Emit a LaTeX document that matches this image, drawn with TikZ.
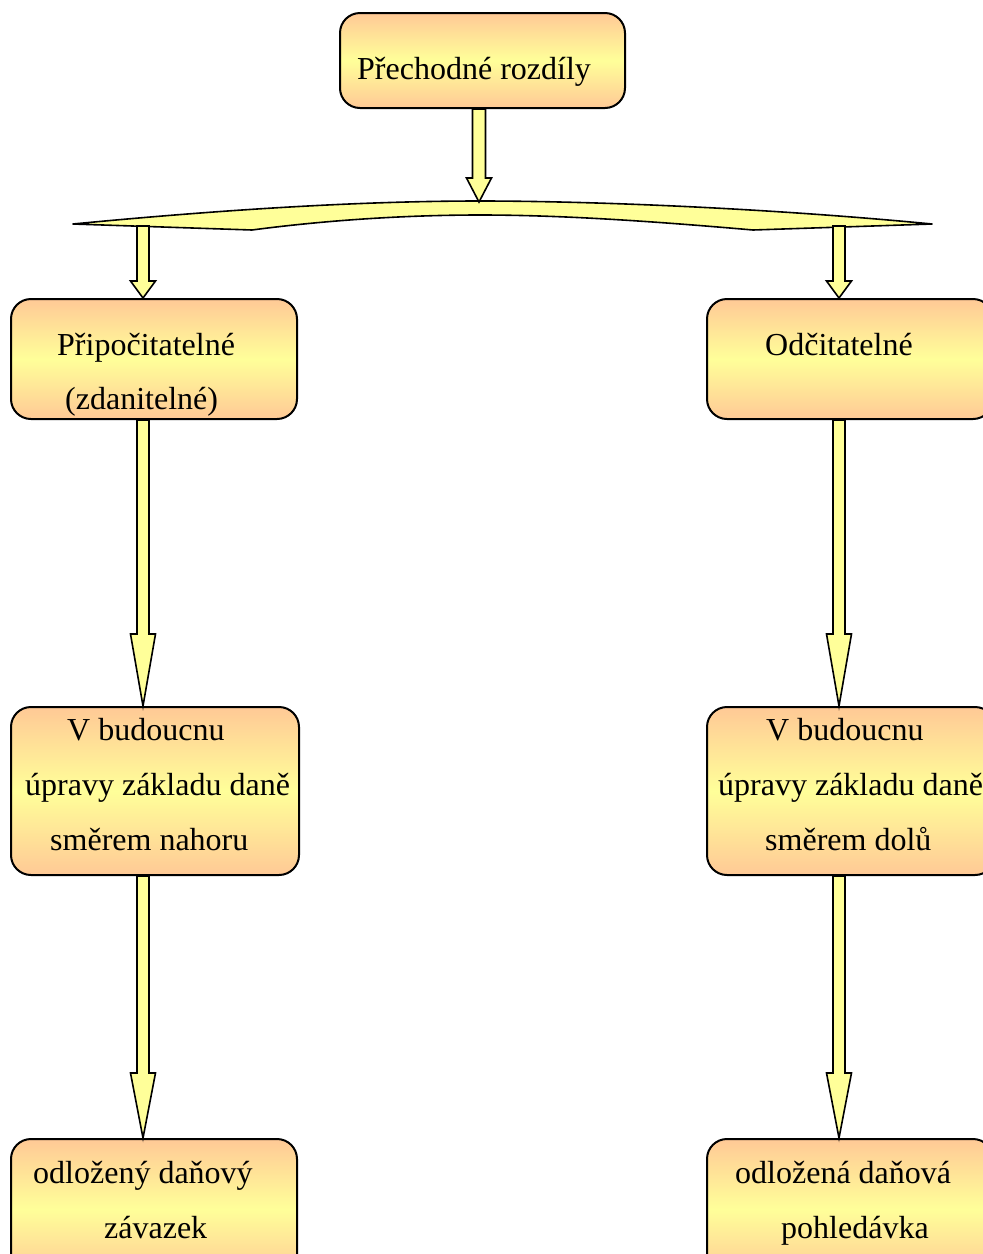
\documentclass[tikz,border=0pt]{standalone}
\usepackage{fontspec}
\setmainfont{Liberation Serif}
\usetikzlibrary{calc}
\definecolor{boxorange}{HTML}{FFC996}
\definecolor{boxyellow}{HTML}{FFFF99}
\definecolor{arrowyellow}{HTML}{FFFF99}
\tikzset{
  box/.style={draw=black, line width=2pt, rounded corners=20pt,
    top color=boxorange, bottom color=boxorange, middle color=boxyellow,
    anchor=north west, inner sep=0pt},
  txt/.style={anchor=base west, inner sep=0pt, font=\fontsize{32}{38}\selectfont},
  barrow/.style={fill=arrowyellow, draw=black, line width=1.6pt, line join=miter},
}
% #1 start (y taken), #2 tip coordinate, #3 shaft half width, #4 head length
\newcommand\blockarrow[4]{%
  \draw[barrow] let \p1=(#1), \p2=(#2) in
    (\x2-#3pt,\y1) -- (\x2+#3pt,\y1) -- (\x2+#3pt,\y2+#4pt) -- (\x2+12.5pt,\y2+#4pt)
    -- (\x2,\y2) -- (\x2-12.5pt,\y2+#4pt) -- (\x2-#3pt,\y2+#4pt) -- cycle;}
\begin{document}
\begin{tikzpicture}[x=1pt,y=-1pt]
\clip (0,0) rectangle (983,1254);
\fill[white] (0,0) rectangle (983,1254);

% boxes
\node[box, minimum width=285pt, minimum height=95pt] (top) at (339,12) {};
\node[box, minimum width=286pt, minimum height=120pt] (l1) at (10,298) {};
\node[box, minimum width=286pt, minimum height=120pt] (r1) at (706,298) {};
\node[box, minimum width=288pt, minimum height=168pt] (l2) at (10,706) {};
\node[box, minimum width=288pt, minimum height=168pt] (r2) at (706,706) {};
\node[box, minimum width=286pt, minimum height=140pt] (l3) at (10,1138) {};
\node[box, minimum width=286pt, minimum height=140pt] (r3) at (706,1138) {};

% brace
\draw[barrow, line join=round] (73,224) .. controls (250,207) and (380,201) .. (480,201)
  .. controls (580,201) and (755,207) .. (932,224) -- (753,230)
  .. controls (650,221) and (560,215) .. (480,215)
  .. controls (400,215) and (320,221) .. (252,230) -- cycle;
\coordinate (braceL) at (143,226);
\coordinate (braceR) at (839,226);
\coordinate (braceTop) at (479,202);

% tips
\coordinate (tipL1) at (143,298);
\coordinate (tipR1) at (839,298);
\coordinate (tipL2) at (143,706);
\coordinate (tipR2) at (839,706);
\coordinate (tipL3) at (143,1138);
\coordinate (tipR3) at (839,1138);

% arrows
\blockarrow{top.south}{braceTop}{6.5}{24}
\blockarrow{braceL}{tipL1}{6}{17}
\blockarrow{braceR}{tipR1}{6}{17}
\blockarrow{l1.south}{tipL2}{6}{72}
\blockarrow{r1.south}{tipR2}{6}{72}
\blockarrow{l2.south}{tipL3}{6}{65}
\blockarrow{r2.south}{tipR3}{6}{65}

% texts
\node[txt] (t0) at (357,79) {Přechodné rozdíly};
\node[txt] (tl1a) at (57,355) {Připočitatelné};
\node[txt] (tl1b) at (65,409) {(zdanitelné)};
\node[txt] (tr1a) at (765,355) {Odčitatelné};
\node[txt] (tl2a) at (67,740) {V budoucnu};
\node[txt] (tl2b) at (25,795) {úpravy základu daně};
\node[txt] (tl2c) at (50,850) {směrem nahoru};
\node[txt] (tr2a) at (766,740) {V budoucnu};
\node[txt] (tr2b) at (718,795) {úpravy základu daně};
\node[txt] (tr2c) at (765,850) {směrem dolů};
\node[txt] (tl3a) at (33,1183) {odložený daňový};
\node[txt] (tl3b) at (104,1238) {závazek};
\node[txt] (tr3a) at (735,1183) {odložená daňová};
\node[txt] (tr3b) at (781,1238) {pohledávka};
\end{tikzpicture}
\end{document}
